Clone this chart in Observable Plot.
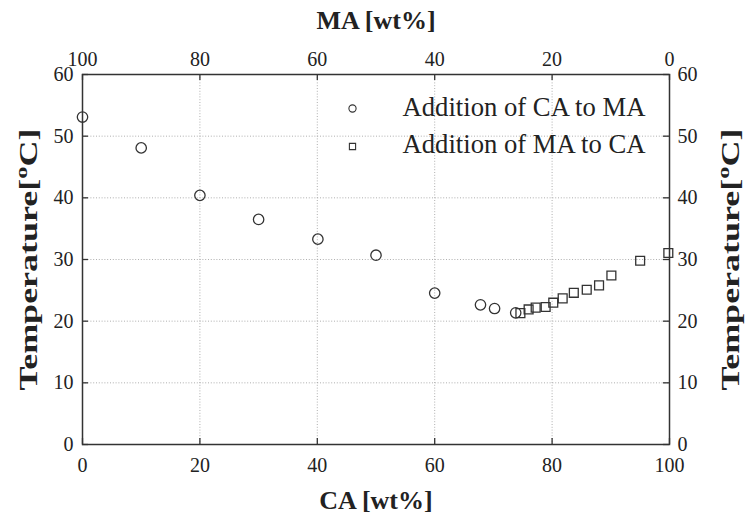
<!DOCTYPE html>
<html>
<head>
<meta charset="utf-8">
<script src="https://cdn.jsdelivr.net/npm/d3@7"></script>
<script src="https://cdn.jsdelivr.net/npm/@observablehq/plot@0.6"></script>
<style>
  html, body { margin: 0; padding: 0; background: white; }
</style>
</head>
<body>
<div id="chart"></div>
<script>
// Series 1: Addition of CA to MA (circles)
const caToMaCA = [0, 10, 20, 30, 40.1, 50, 60, 67.8, 70.2, 73.8];
const caToMaT  = [53.1, 48.1, 40.4, 36.5, 33.3, 30.7, 24.55, 22.65, 22.05, 21.35];
// Series 2: Addition of MA to CA (squares)
const maToCaCA = [74.6, 76.0, 77.2, 78.9, 80.2, 81.8, 83.7, 85.9, 88.0, 90.1, 95.0, 99.8];
const maToCaT  = [21.3, 21.9, 22.2, 22.3, 23.0, 23.7, 24.6, 25.1, 25.8, 27.4, 29.8, 31.05];

const xTicks = [0, 20, 40, 60, 80, 100];
const yTicks = [0, 10, 20, 30, 40, 50, 60];
const legendLabels = ["Addition of CA to MA", "Addition of MA to CA"];
const xTitle = "CA [wt%]";
const x2Title = "MA [wt%]";
const yTitle = "Temperature[oC]";

const series1 = caToMaCA.map((x, i) => ({x, y: caToMaT[i]}));
const series2 = maToCaCA.map((x, i) => ({x, y: maToCaT[i]}));

const W = 745, H = 515, mL = 82, mR = 76, mT = 74, mB = 71;
const fw = W - mL - mR, fh = H - mT - mB, tick = 6;
const ink = "#333";

const chart = Plot.plot({
  width: W, height: H,
  marginLeft: mL, marginRight: mR, marginTop: mT, marginBottom: mB,
  style: {fontFamily: "'Liberation Serif', 'Times New Roman', serif", fontSize: "20px", background: "white", color: "#222"},
  x: {domain: [0, 100]},
  y: {domain: [0, 60]},
  marks: [
    Plot.gridX(xTicks.slice(1, -1), {stroke: "#9a9a9a", strokeOpacity: 1, strokeDasharray: "1,1.8", strokeWidth: 0.8}),
    Plot.gridY(yTicks.slice(1, -1), {stroke: "#9a9a9a", strokeOpacity: 1, strokeDasharray: "1,1.8", strokeWidth: 0.8}),
    // inward ticks
    Plot.ruleX(xTicks, {x: d => d, insetTop: fh - tick, stroke: ink, strokeWidth: 1.3}),
    Plot.ruleX(xTicks, {x: d => d, insetBottom: fh - tick, stroke: ink, strokeWidth: 1.3}),
    Plot.ruleY(yTicks, {y: d => d, insetRight: fw - tick, stroke: ink, strokeWidth: 1.3}),
    Plot.ruleY(yTicks, {y: d => d, insetLeft: fw - tick, stroke: ink, strokeWidth: 1.3}),
    Plot.frame({stroke: ink, strokeWidth: 1.5}),
    Plot.axisX(xTicks, {anchor: "bottom", tickSize: 0, tickPadding: 13, label: null, fill: "#222"}),
    Plot.axisX(xTicks, {anchor: "top", tickSize: 0, tickPadding: 9, label: null, tickFormat: d => String(100 - d), fill: "#222"}),
    Plot.axisY(yTicks, {anchor: "left", tickSize: 0, tickPadding: 9, label: null, fill: "#222"}),
    Plot.axisY(yTicks, {anchor: "right", tickSize: 0, tickPadding: 8, label: null, fill: "#222"}),
    // data
    Plot.dot(series1, {x: "x", y: "y", symbol: "circle", r: 5.2, stroke: ink, strokeWidth: 1.3, fill: "none"}),
    Plot.dot(series2, {x: "x", y: "y", symbol: "square", r: 5, stroke: ink, strokeWidth: 1.3, fill: "none"}),
    // legend
    Plot.dot([legendLabels[0]], {frameAnchor: "top-left", dx: 270, dy: 34, symbol: "circle", r: 3.6, stroke: ink, strokeWidth: 1.1, fill: "none"}),
    Plot.dot([legendLabels[1]], {frameAnchor: "top-left", dx: 270, dy: 72, symbol: "square", r: 3.5, stroke: ink, strokeWidth: 1.1, fill: "none"}),
    Plot.text([legendLabels[0]], {frameAnchor: "top-left", dx: 320, dy: 33, text: d => d, textAnchor: "start", lineAnchor: "middle", fontSize: 28, fill: "#222"}),
    Plot.text([legendLabels[1]], {frameAnchor: "top-left", dx: 320, dy: 70, text: d => d, textAnchor: "start", lineAnchor: "middle", fontSize: 28, fill: "#222"}),
    // titles
    Plot.text([xTitle], {frameAnchor: "bottom", dy: 56, text: d => d, lineAnchor: "middle", textAnchor: "middle", fontSize: 26, fontWeight: "bold", fill: "#222"}),
    Plot.text([x2Title], {frameAnchor: "top", dy: -54, text: d => d, lineAnchor: "middle", textAnchor: "middle", fontSize: 26, fontWeight: "bold", fill: "#222"}),
    Plot.text([yTitle], {frameAnchor: "left", dx: -54, rotate: -90, text: d => d, lineAnchor: "middle", textAnchor: "middle", fontSize: 26, fontWeight: "bold", fill: "#222"}),
    Plot.text([yTitle], {frameAnchor: "right", dx: 61, rotate: -90, text: d => d, lineAnchor: "middle", textAnchor: "middle", fontSize: 26, fontWeight: "bold", fill: "#222"})
  ]
});

// superscript "o" in the temperature titles, stretched like the reference
d3.select(chart).selectAll("text").filter(function() { return this.textContent === yTitle; }).each(function() {
  const t = d3.select(this);
  t.text("");
  t.attr("text-anchor", "middle").attr("textLength", 262).attr("lengthAdjust", "spacingAndGlyphs");
  t.append("tspan").text("Temperature[");
  t.append("tspan").attr("baseline-shift", "super").attr("font-size", "0.68em").text("o");
  t.append("tspan").text("C]");
});
d3.select(chart).selectAll("text").filter(function() { return legendLabels.includes(this.textContent); })
  .attr("textLength", 243).attr("lengthAdjust", "spacingAndGlyphs");

document.getElementById("chart").appendChild(chart);
</script>
</body>
</html>
